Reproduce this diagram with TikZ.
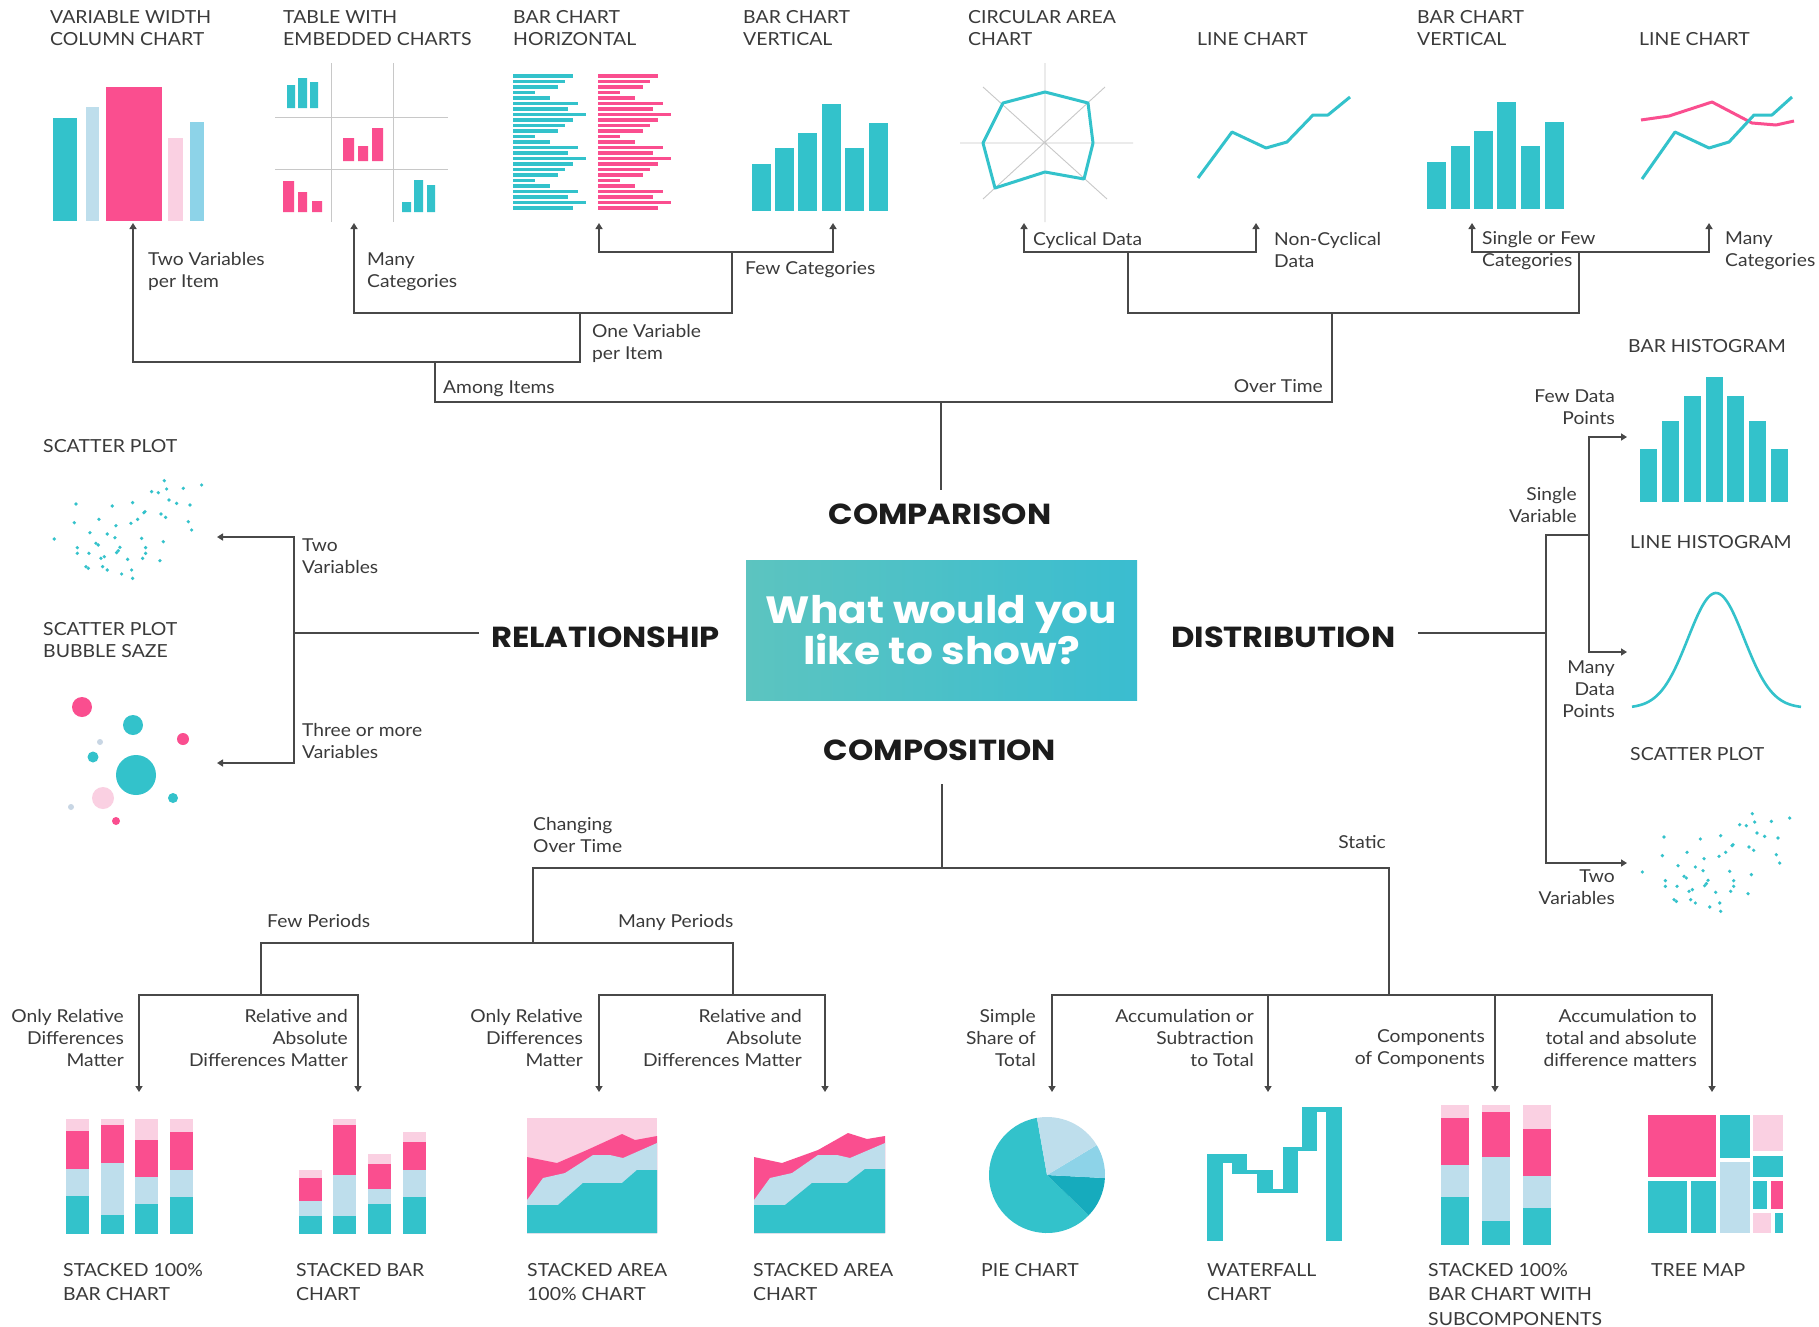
\documentclass[tikz,border=0pt]{standalone}
\usepackage{fontspec}
\setmainfont{Lato}[FakeStretch=1.08]
\newfontfamily\headfont{Poppins}[FakeStretch=1.11]
\usetikzlibrary{arrows.meta}
\definecolor{teal1}{RGB}{51,194,203}
\definecolor{tealdk}{RGB}{22,171,189}
\definecolor{pink1}{RGB}{250,78,143}
\definecolor{lblue}{RGB}{190,222,236}
\definecolor{lpink}{RGB}{250,208,226}
\definecolor{skyb}{RGB}{141,211,232}
\definecolor{greyb}{RGB}{200,214,228}
\definecolor{lineg}{RGB}{72,72,72}
\definecolor{txtg}{RGB}{58,58,58}
\definecolor{headc}{RGB}{28,28,28}
\definecolor{gridg}{RGB}{200,200,200}
\definecolor{boxl}{RGB}{92,196,192}
\definecolor{boxr}{RGB}{58,189,208}
\newcommand{\Lt}[1]{\begin{tabular}[t]{@{}l@{}}#1\end{tabular}}
\newcommand{\Rt}[1]{\begin{tabular}[t]{@{}r@{}}#1\end{tabular}}
\newcommand{\scatterdots}{%
\foreach \p in {(493,152),(605,165),(455,185),(475,188),(500,177),(550,175),(228,222),(337,228),(398,218),(507,210),(530,220),(570,225),(435,245),(432,248),(483,252),(497,262),(297,268),(413,268),(223,278),(348,287),(393,280),(565,275),(575,300),(270,308),(322,312),(163,327),(288,340),(295,345),(345,323),(425,325),(490,335),(232,353),(232,370),(267,370),(360,352),(355,362),(350,368),(437,353),(437,370),(303,385),(313,380),(383,388),(428,385),(480,392),(258,410),(265,415),(308,410),(322,420),(395,420),(365,432),(398,445)}
{\fill[teal1] \p circle[radius=5.5];}}
\begin{document}
\begin{tikzpicture}[x=1pt,y=-1pt,
  ttl/.style={inner sep=0pt, anchor=base west, text=txtg, font=\fontsize{18}{22}\selectfont},
  ttlb/.style={ttl, font=\fontsize{18}{24.5}\selectfont},
  lbl/.style={inner sep=0pt, anchor=base west, text=txtg, font=\fontsize{17.8}{22}\selectfont},
  lblr/.style={lbl, anchor=base east},
  head/.style={inner sep=0pt, anchor=base, text=headc, font=\headfont\bfseries\fontsize{29}{32}\selectfont},
  conn/.style={draw=lineg, line width=1.8pt, line cap=rect},
  arr/.style={draw=lineg, line width=1.8pt, -{Triangle[length=6pt,width=7pt]}}]
\useasboundingbox (0,0) rectangle (1819,1326);
\fill[white] (0,0) rectangle (1819,1326);

% ---------------- titles top ----------------
\node[ttl] (t1) at (50,23) {\Lt{VARIABLE WIDTH\\COLUMN CHART}};
\node[ttl] (t2) at (283,23) {\Lt{TABLE WITH\\EMBEDDED CHARTS}};
\node[ttl] (t3) at (513,23) {\Lt{BAR CHART\\HORIZONTAL}};
\node[ttl] (t4) at (743,23) {\Lt{BAR CHART\\VERTICAL}};
\node[ttl] (t5) at (968,23) {\Lt{CIRCULAR AREA\\CHART}};
\node[ttl] (t6) at (1197,45) {LINE CHART};
\node[ttl] (t7) at (1417,23) {\Lt{BAR CHART\\VERTICAL}};
\node[ttl] (t8) at (1639,45) {LINE CHART};
\node[ttl] (t9) at (1628,352) {BAR HISTOGRAM};
\node[ttl] (t10) at (1630,548) {LINE HISTOGRAM};
\node[ttl] (t11) at (1630,760) {SCATTER PLOT};
\node[ttl] (t12) at (43,452) {SCATTER PLOT};
\node[ttl] (t13) at (43,635) {\Lt{SCATTER PLOT\\BUBBLE SAZE}};
% bottom titles
\node[ttlb] (t14) at (63,1276) {\Lt{STACKED 100\%\\BAR CHART}};
\node[ttlb] (t15) at (296,1276) {\Lt{STACKED BAR\\CHART}};
\node[ttlb] (t16) at (527,1276) {\Lt{STACKED AREA\\100\% CHART}};
\node[ttlb] (t17) at (753,1276) {\Lt{STACKED AREA\\CHART}};
\node[ttlb] (t18) at (981,1276) {PIE CHART};
\node[ttlb] (t19) at (1207,1276) {\Lt{WATERFALL\\CHART}};
\node[ttlb] (t20) at (1428,1276) {\Lt{STACKED 100\%\\BAR CHART WITH\\SUBCOMPONENTS}};
\node[ttlb] (t21) at (1651,1276) {TREE MAP};

% ---------------- charts ----------------
% variable width column chart
\fill[teal1] (53,118) rectangle (77,221);
\fill[lblue] (86,107) rectangle (99,221);
\fill[pink1] (106,87) rectangle (162,221);
\fill[lpink] (168,138) rectangle (183,221);
\fill[skyb] (190,122) rectangle (204,221);

% table with embedded charts
\draw[gridg, line width=1pt] (331,63)--(331,222) (393,63)--(393,222) (275,117)--(448,117) (275,169)--(448,169);
\fill[teal1] (287,85) rectangle (295,108) (298,78) rectangle (307,108) (310,82) rectangle (318,108);
\fill[pink1] (343,138) rectangle (354,161) (358,146) rectangle (368,161) (372,128) rectangle (383,161);
\fill[pink1] (283,181) rectangle (294,212) (298,192) rectangle (307,212) (312,201) rectangle (322,212);
\fill[teal1] (402,202) rectangle (411,212) (414,180) rectangle (423,212) (427,185) rectangle (435,212);

% horizontal bar chart
\foreach \l [count=\i from 0] in {60,52,45,22,37,65,55,73,60,52,45,22,37,65,55,73,60,52,45,22,37,65,55,73,60}{
  \fill[teal1] (513,{74.4+\i*5.5}) rectangle ++(\l,3.2);
  \fill[pink1] (598,{74.4+\i*5.5}) rectangle ++(\l,3.2);
}

% vertical bar chart A
\foreach \x/\t in {752/164,775/148,798/133,822/104,845/148,869/123}{
  \fill[teal1] (\x,\t) rectangle ++(18.5,{211-\t});
}
% vertical bar chart B
\foreach \x/\t in {1427/162,1451/146,1474/131,1497/102,1521/146,1545/122}{
  \fill[teal1] (\x,\t) rectangle ++(18.5,{209-\t});
}

% radar chart
\draw[gridg, line width=0.9pt] (1045,63)--(1045,222) (960,143)--(1133,143) (983,87)--(1107,199) (1105,87)--(983,199);
\draw[teal1, line width=3pt, line join=round] (1045,92)--(1088,103)--(1093,143)--(1084,179)--(1045,172)--(995,188)--(983,143)--(1003,103)--cycle;

% line charts
\draw[teal1, line width=3pt, line join=round] (1198,178)--(1232,132)--(1266,148)--(1287,142)--(1313,115)--(1328,115)--(1350,97);
\draw[pink1, line width=3pt, line join=round] (1641,120)--(1669,116)--(1712,102)--(1752,123)--(1776,125)--(1794,121);
\draw[teal1, line width=3pt, line join=round] (1642,179)--(1675,132)--(1709,148)--(1729,142)--(1754,115)--(1772,115)--(1792,97);

% histogram
\foreach \x/\t in {1640/449,1662/421,1684/396,1706/377,1727/396,1749/421,1771/449}{
  \fill[teal1] (\x,\t) rectangle ++(17,{502-\t});
}
% bell curve
\draw[teal1, line width=2.6pt] plot[domain=1632:1801, samples=90, smooth] (\x,{708-115*exp(-0.5*((\x-1716)/28)*((\x-1716)/28))});

% scatter plots
\begin{scope}[shift={(0,430)}, scale=0.3333]
\scatterdots
\end{scope}
\begin{scope}[shift={(1588,763)}, scale=0.3333]
\scatterdots
\end{scope}

% bubbles
\fill[pink1] (82,707) circle[radius=10];
\fill[teal1] (133,725) circle[radius=10];
\fill[pink1] (183,739) circle[radius=6];
\fill[greyb] (100,742) circle[radius=3];
\fill[teal1] (93,757) circle[radius=5.5];
\fill[teal1] (136,775) circle[radius=20];
\fill[lpink] (103,798) circle[radius=11];
\fill[teal1] (173,798) circle[radius=5];
\fill[greyb] (71,807) circle[radius=3];
\fill[pink1] (116,821) circle[radius=4];

% stacked 100% bar chart
\foreach \x/\a/\b/\c in {66/1131/1169/1196,101/1125/1163/1215,135/1140/1177/1204,170/1132/1170/1197}{
  \fill[lpink] (\x,1119) rectangle ++(23,{\a-1119});
  \fill[pink1] (\x,\a) rectangle ++(23,{\b-\a});
  \fill[lblue] (\x,\b) rectangle ++(23,{\c-\b});
  \fill[teal1] (\x,\c) rectangle ++(23,{1234-\c});
}
% stacked bar chart
\foreach \x/\s/\a/\b/\c in {299/1170/1178/1201/1216,333/1119/1125/1175/1216,368/1154/1164/1189/1204,403/1132/1142/1170/1197}{
  \fill[lpink] (\x,\s) rectangle ++(23,{\a-\s});
  \fill[pink1] (\x,\a) rectangle ++(23,{\b-\a});
  \fill[lblue] (\x,\b) rectangle ++(23,{\c-\b});
  \fill[teal1] (\x,\c) rectangle ++(23,{1234-\c});
}
% stacked area 100%
\fill[lpink] (527,1118) rectangle (657,1233);
\fill[pink1] (527,1157)--(557,1163)--(587,1150)--(622,1134)--(635,1140)--(657,1136)--(657,1233)--(527,1233)--cycle;
\fill[lblue] (527,1200)--(543,1178)--(565,1173)--(593,1155)--(610,1155)--(623,1158)--(657,1143)--(657,1233)--(527,1233)--cycle;
\fill[teal1] (527,1205)--(558,1205)--(583,1183)--(622,1183)--(637,1170)--(657,1170)--(657,1233)--(527,1233)--cycle;
% stacked area
\fill[pink1] (754,1157)--(782,1163)--(818,1150)--(848,1133)--(867,1139)--(885,1136)--(885,1233)--(754,1233)--cycle;
\fill[lblue] (754,1200)--(770,1178)--(792,1173)--(818,1155)--(837,1155)--(850,1158)--(885,1143)--(885,1233)--(754,1233)--cycle;
\fill[teal1] (754,1205)--(785,1205)--(812,1183)--(847,1183)--(865,1169)--(885,1169)--(885,1233)--(754,1233)--cycle;

% pie chart
\begin{scope}[shift={(1047,1175)}, yscale=-1]
\fill[teal1] (0,0) -- (100:58) arc[start angle=100, end angle=316, radius=58] -- cycle;
\fill[tealdk] (0,0) -- (316:58) arc[start angle=316, end angle=357, radius=58] -- cycle;
\fill[skyb] (0,0) -- (-3:58) arc[start angle=-3, end angle=31, radius=58] -- cycle;
\fill[lblue] (0,0) -- (31:58) arc[start angle=31, end angle=100, radius=58] -- cycle;
\end{scope}

% waterfall
\fill[teal1] (1207,1154) rectangle (1223,1241);
\fill[teal1] (1207,1154) rectangle (1247,1163);
\fill[teal1] (1232,1154) rectangle (1247,1174);
\fill[teal1] (1232,1170) rectangle (1273,1174);
\fill[teal1] (1257,1170) rectangle (1273,1193);
\fill[teal1] (1257,1189) rectangle (1298,1193);
\fill[teal1] (1283,1147) rectangle (1298,1193);
\fill[teal1] (1283,1147) rectangle (1317,1151);
\fill[teal1] (1302,1107) rectangle (1317,1151);
\fill[teal1] (1302,1107) rectangle (1342,1112);
\fill[teal1] (1326,1107) rectangle (1342,1241);

% stacked 100% with subcomponents
\foreach \x/\a/\b/\c in {1441/1118/1165/1197,1482/1112/1157/1221,1523/1129/1176/1208}{
  \fill[lpink] (\x,1105) rectangle ++(28,{\a-1105});
  \fill[pink1] (\x,\a) rectangle ++(28,{\b-\a});
  \fill[lblue] (\x,\b) rectangle ++(28,{\c-\b});
  \fill[teal1] (\x,\c) rectangle ++(28,{1245-\c});
}

% tree map
\fill[pink1] (1648,1115) rectangle (1716,1177);
\fill[teal1] (1648,1181) rectangle (1687,1233);
\fill[teal1] (1691,1181) rectangle (1716,1233);
\fill[teal1] (1720,1115) rectangle (1750,1158);
\fill[lblue] (1720,1162) rectangle (1750,1233);
\fill[lpink] (1753,1115) rectangle (1783,1151);
\fill[teal1] (1753,1156) rectangle (1783,1177);
\fill[teal1] (1753,1181) rectangle (1767,1209);
\fill[pink1] (1771,1181) rectangle (1783,1209);
\fill[lpink] (1753,1213) rectangle (1771,1233);
\fill[teal1] (1775,1213) rectangle (1783,1233);

% ---------------- centre and headings ----------------
\node[left color=boxl, right color=boxr, minimum width=391pt, minimum height=140pt, inner sep=0pt,
      text=white, align=center, font=\headfont\bfseries\fontsize{38}{40}\selectfont] (q) at (941.5,630) {What would you\\like to show?};
\node[head] (hcmp) at (940,524) {COMPARISON};
\node[head] (hcpo) at (940,760) {COMPOSITION};
\node[head, anchor=base west] (hrel) at (491,647) {RELATIONSHIP};
\node[head, anchor=base west] (hdis) at (1171,647) {DISTRIBUTION};

% ---------------- labels ----------------
\node[lbl] (l1) at (148,265) {\Lt{Two Variables\\per Item}};
\node[lbl] (l2) at (367,265) {\Lt{Many\\Categories}};
\node[lbl] (l3) at (592,337) {\Lt{One Variable\\per Item}};
\node[lbl] (l4) at (745,274) {Few Categories};
\node[lbl] (l5) at (443,393) {Among Items};
\node[lbl] (l6) at (1033,245) {Cyclical Data};
\node[lbl] (l7) at (1274,245) {\Lt{Non-Cyclical\\Data}};
\node[lblr] (l8) at (1323,392) {Over Time};
\node[lbl] (l9) at (1482,244) {\Lt{Single or Few\\Categories}};
\node[lbl] (l10) at (1725,244) {\Lt{Many\\Categories}};
\node[lblr] (l11) at (1615,402) {\Rt{Few Data\\Points}};
\node[lblr] (l12) at (1577,500) {\Rt{Single\\Variable}};
\node[lblr] (l13) at (1615,673) {\Rt{Many\\Data\\Points}};
\node[lblr] (l14) at (1615,882) {\Rt{Two\\Variables}};
\node[lbl] (l15) at (302,551) {\Lt{Two\\Variables}};
\node[lbl] (l16) at (302,736) {\Lt{Three or more\\Variables}};
\node[lbl] (l17) at (533,830) {\Lt{Changing\\Over Time}};
\node[lblr] (l18) at (1386,848) {Static};
\node[lbl] (l19) at (267,927) {Few Periods};
\node[lbl] (l20) at (618,927) {Many Periods};
\node[lblr] (l21) at (124,1022) {\Rt{Only Relative\\Differences\\Matter}};
\node[lblr] (l22) at (348,1022) {\Rt{Relative and\\Absolute\\Differences Matter}};
\node[lblr] (l23) at (583,1022) {\Rt{Only Relative\\Differences\\Matter}};
\node[lblr] (l24) at (802,1022) {\Rt{Relative and\\Absolute\\Differences Matter}};
\node[lblr] (l25) at (1036,1022) {\Rt{Simple\\Share of\\Total}};
\node[lblr] (l26) at (1254,1022) {\Rt{Accumulation or\\Subtraction\\to Total}};
\node[lblr] (l27) at (1485,1042) {\Rt{Components\\of Components}};
\node[lblr] (l28) at (1697,1022) {\Rt{Accumulation to\\total and absolute\\difference matters}};

% ---------------- connectors: comparison ----------------
\coordinate (c0) at (941,489); \coordinate (c1) at (941,402);
\coordinate (cl) at (435,402); \coordinate (cr) at (1332,402);
\coordinate (cl1) at (435,362);
\coordinate (a1) at (133,362); \coordinate (a1t) at (133,223);
\coordinate (a2) at (580,362); \coordinate (a2b) at (580,313);
\coordinate (a3) at (354,313); \coordinate (a3t) at (354,223);
\coordinate (a4) at (732,313); \coordinate (a4b) at (732,252);
\coordinate (a5) at (599,252); \coordinate (a5t) at (599,223);
\coordinate (a6) at (833,252); \coordinate (a6t) at (833,223);
\coordinate (cr1) at (1332,313);
\coordinate (b1) at (1128,313); \coordinate (b1b) at (1128,252);
\coordinate (b2) at (1024,252); \coordinate (b2t) at (1024,223);
\coordinate (b3) at (1256,252); \coordinate (b3t) at (1256,223);
\coordinate (b4) at (1579,313); \coordinate (b4b) at (1579,252);
\coordinate (b5) at (1472,252); \coordinate (b5t) at (1472,223);
\coordinate (b6) at (1709,252); \coordinate (b6t) at (1709,223);
\draw[conn] (c0)--(c1); \draw[conn] (cl)--(cr);
\draw[conn] (cl)--(cl1); \draw[conn] (a1)--(a2);
\draw[arr] (a1)--(a1t);
\draw[conn] (a2)--(a2b); \draw[conn] (a3)--(a4);
\draw[arr] (a3)--(a3t);
\draw[conn] (a4)--(a4b); \draw[conn] (a5)--(a6);
\draw[arr] (a5)--(a5t); \draw[arr] (a6)--(a6t);
\draw[conn] (cr)--(cr1); \draw[conn] (b1)--(b4);
\draw[conn] (b1)--(b1b); \draw[conn] (b2)--(b3);
\draw[arr] (b2)--(b2t); \draw[arr] (b3)--(b3t);
\draw[conn] (b4)--(b4b); \draw[conn] (b5)--(b6);
\draw[arr] (b5)--(b5t); \draw[arr] (b6)--(b6t);

% ---------------- connectors: relationship ----------------
\coordinate (r0) at (478,633); \coordinate (r1) at (294,633);
\coordinate (r2) at (294,537); \coordinate (r3) at (294,763);
\coordinate (r2t) at (217,537); \coordinate (r3t) at (217,763);
\draw[conn] (r0)--(r1); \draw[conn] (r2)--(r3);
\draw[arr] (r2)--(r2t); \draw[arr] (r3)--(r3t);

% ---------------- connectors: distribution ----------------
\coordinate (d0) at (1419,633); \coordinate (d1) at (1546,633);
\coordinate (d2) at (1546,535); \coordinate (d3) at (1546,863);
\coordinate (d4) at (1589,535); \coordinate (d5) at (1589,437); \coordinate (d6) at (1589,652);
\coordinate (d5t) at (1627,437); \coordinate (d6t) at (1627,652); \coordinate (d3t) at (1627,863);
\draw[conn] (d0)--(d1); \draw[conn] (d2)--(d3); \draw[conn] (d2)--(d4); \draw[conn] (d5)--(d6);
\draw[arr] (d5)--(d5t); \draw[arr] (d6)--(d6t); \draw[arr] (d3)--(d3t);

% ---------------- connectors: composition ----------------
\coordinate (p0) at (942,785); \coordinate (p1) at (942,868);
\coordinate (pl) at (533,868); \coordinate (pr) at (1389,868);
\coordinate (pl1) at (533,943);
\coordinate (q1) at (261,943); \coordinate (q2) at (733,943);
\coordinate (q1b) at (261,995); \coordinate (q2b) at (733,995);
\coordinate (pr1) at (1389,995);
\coordinate (s1) at (139,995); \coordinate (s2) at (358,995);
\coordinate (s3) at (599,995); \coordinate (s4) at (825,995);
\coordinate (s5) at (1052,995); \coordinate (s6) at (1268,995);
\coordinate (s7) at (1495,995); \coordinate (s8) at (1712,995);
\coordinate (s1t) at (139,1092); \coordinate (s2t) at (358,1092);
\coordinate (s3t) at (599,1092); \coordinate (s4t) at (825,1092);
\coordinate (s5t) at (1052,1092); \coordinate (s6t) at (1268,1092);
\coordinate (s7t) at (1495,1092); \coordinate (s8t) at (1712,1092);
\draw[conn] (p0)--(p1); \draw[conn] (pl)--(pr);
\draw[conn] (pl)--(pl1); \draw[conn] (q1)--(q2);
\draw[conn] (q1)--(q1b); \draw[conn] (q2)--(q2b);
\draw[conn] (s1)--(s2); \draw[conn] (s3)--(s4);
\draw[conn] (pr)--(pr1); \draw[conn] (s5)--(s8);
\foreach \k in {1,...,8}{\draw[arr] (s\k)--(s\k t);}
\end{tikzpicture}
\end{document}
